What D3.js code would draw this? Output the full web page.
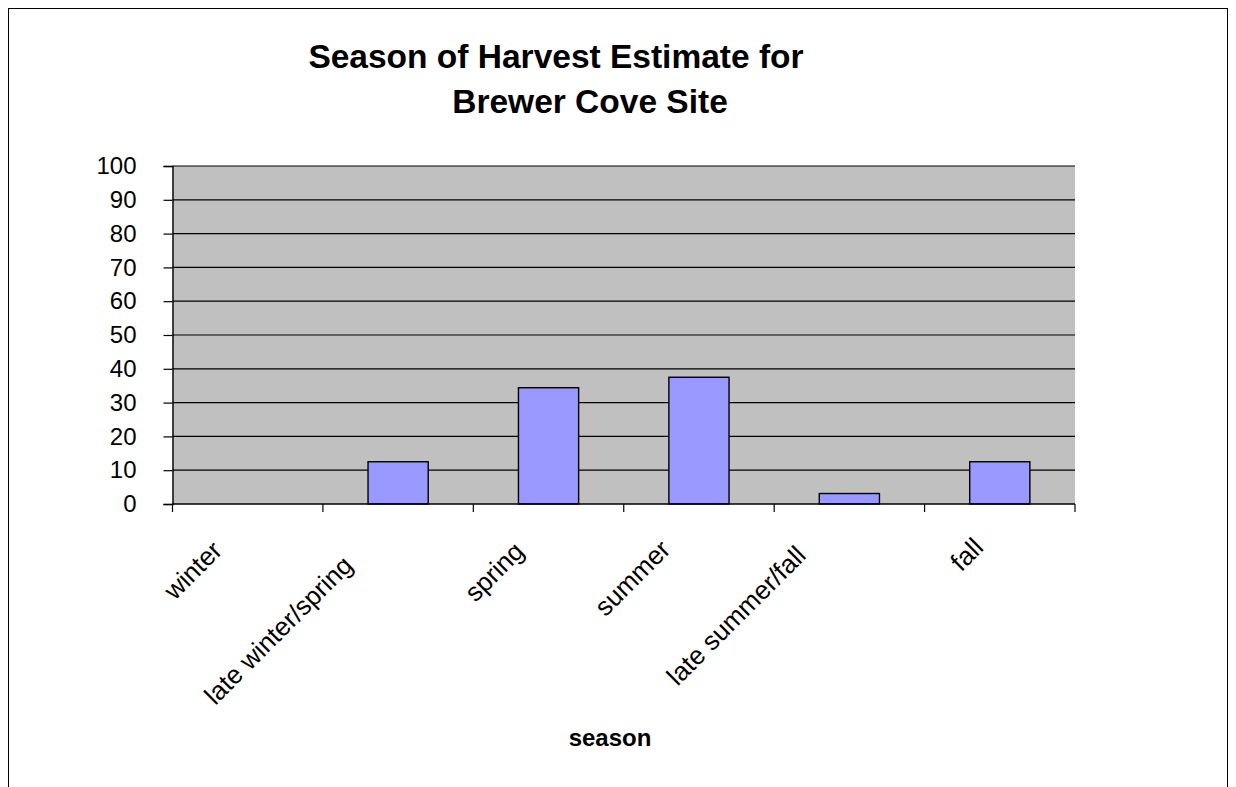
<!DOCTYPE html>
<html>
<head>
<meta charset="utf-8">
<script src="https://cdn.jsdelivr.net/npm/d3@7"></script>
<style>
  html, body { margin: 0; padding: 0; background: #fff; }
  svg { display: block; font-family: Arial, "Liberation Sans", sans-serif; }
</style>
</head>
<body>
<svg id="chart" width="1236" height="787"></svg>
<script>
// Share of harvest by season (percent)
const seasons = ["winter", "late winter/spring", "spring", "summer", "late summer/fall", "fall"];
const percents = [0, 12.5, 34.4, 37.5, 3.1, 12.5];
const yTicks = [0, 10, 20, 30, 40, 50, 60, 70, 80, 90, 100];
const titleLines = ["Season of Harvest Estimate for", "Brewer Cove Site"];
const xTitle = "season";

// Nudges for the rotated category labels (end of text relative to band centre)
const labelDx = [-24, -44, -23, -27, -42, -15];
const labelY = [552, 567, 553, 551, 557, 549];

const svg = d3.select("#chart");
const plot = { left: 172.5, right: 1075, top: 166, bottom: 504 };

// outer chart border
svg.append("rect")
  .attr("x", 8.5).attr("y", 8.5)
  .attr("width", 1219).attr("height", 820)
  .attr("fill", "none").attr("stroke", "#000").attr("stroke-width", 1);

const x = d3.scaleBand()
  .domain(seasons)
  .range([plot.left, plot.right])
  .paddingInner(0.6).paddingOuter(0.3);

const xOuter = d3.scaleBand().domain(seasons).range([plot.left, plot.right]);

const y = d3.scaleLinear().domain([0, 100]).range([plot.bottom, plot.top]);

// plot background
svg.append("rect")
  .attr("x", plot.left).attr("y", plot.top)
  .attr("width", plot.right - plot.left).attr("height", plot.bottom - plot.top)
  .attr("fill", "#c0c0c0");

// gridlines
svg.append("g")
  .selectAll("line")
  .data(yTicks.filter(d => d > 0))
  .join("line")
  .attr("x1", plot.left).attr("x2", plot.right)
  .attr("y1", d => y(d)).attr("y2", d => y(d))
  .attr("stroke", "#000").attr("stroke-width", 1.2);

// y axis
const yAxis = svg.append("g")
  .attr("transform", `translate(${plot.left},0)`)
  .call(d3.axisLeft(y).tickValues(yTicks).tickSize(9).tickPadding(27));
yAxis.select(".domain").attr("stroke", "#000").attr("stroke-width", 1.4);
yAxis.selectAll(".tick line").attr("stroke", "#000").attr("stroke-width", 1.2);
yAxis.selectAll(".tick text")
  .attr("font-size", 24).attr("fill", "#000")
  .attr("font-family", "Arial, 'Liberation Sans', sans-serif");

// bars
svg.append("g")
  .selectAll("rect")
  .data(seasons.map((s, i) => ({ s, v: percents[i] })).filter(d => d.v > 0))
  .join("rect")
  .attr("x", d => x(d.s))
  .attr("width", x.bandwidth())
  .attr("y", d => y(d.v))
  .attr("height", d => y(0) - y(d.v))
  .attr("fill", "#9999ff")
  .attr("stroke", "#000").attr("stroke-width", 1.4);

// x axis line and category boundary ticks
const boundaries = seasons.map(s => xOuter(s)).concat([plot.right]);
svg.append("line")
  .attr("x1", plot.left).attr("x2", plot.right)
  .attr("y1", plot.bottom).attr("y2", plot.bottom)
  .attr("stroke", "#000").attr("stroke-width", 1.4);
svg.append("g")
  .selectAll("line")
  .data(boundaries)
  .join("line")
  .attr("x1", d => d).attr("x2", d => d)
  .attr("y1", plot.bottom).attr("y2", plot.bottom + 8)
  .attr("stroke", "#000").attr("stroke-width", 1.2);

// rotated category labels
svg.append("g")
  .selectAll("text")
  .data(seasons)
  .join("text")
  .attr("text-anchor", "end")
  .attr("font-size", 26)
  .attr("fill", "#000")
  .attr("transform", (d, i) => {
    const cx = xOuter(d) + xOuter.bandwidth() / 2 + labelDx[i];
    return `translate(${cx},${labelY[i]}) rotate(-45)`;
  })
  .text(d => d);

// axis title
svg.append("text")
  .attr("x", 610).attr("y", 746)
  .attr("text-anchor", "middle")
  .attr("font-size", 24).attr("font-weight", "bold")
  .text(xTitle);

// chart title
svg.append("text")
  .attr("text-anchor", "middle")
  .attr("font-size", 33.5).attr("font-weight", "bold")
  .selectAll("tspan")
  .data(titleLines)
  .join("tspan")
  .attr("x", (d, i) => i === 0 ? 556 : 590)
  .attr("y", (d, i) => i === 0 ? 68 : 113)
  .text(d => d);
</script>
</body>
</html>
